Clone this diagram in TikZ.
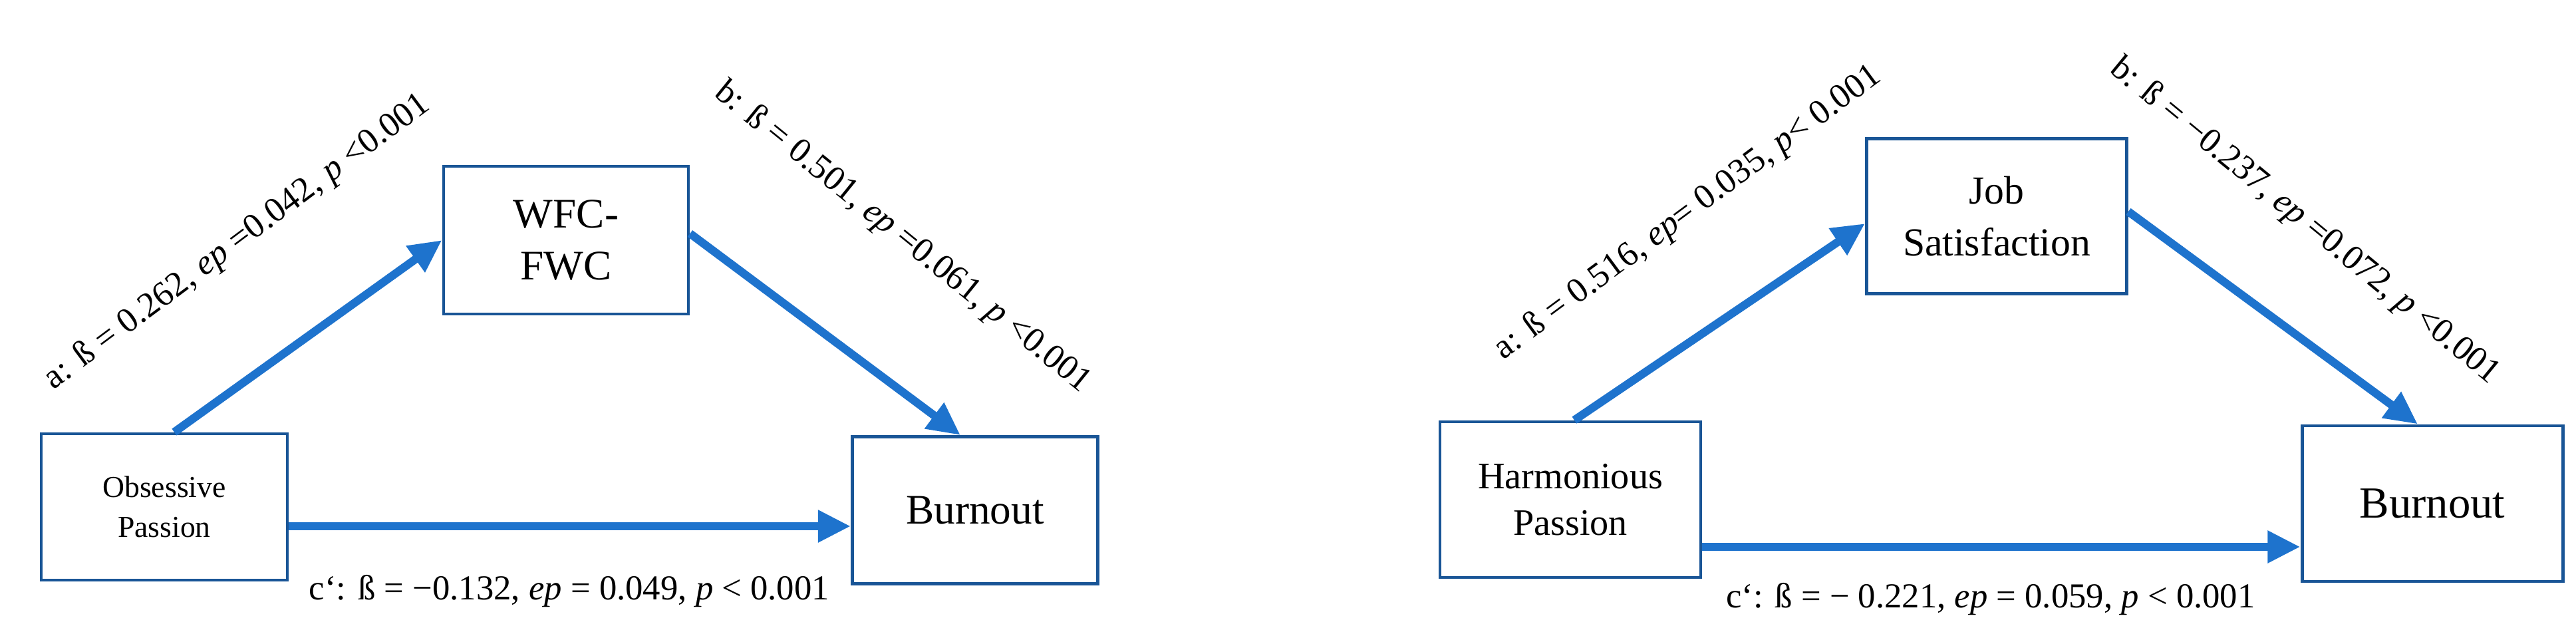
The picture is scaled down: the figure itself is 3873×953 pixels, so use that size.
\documentclass[tikz,border=0pt]{standalone}
\usepackage{fontspec}
\setmainfont{Liberation Serif}
\usetikzlibrary{arrows.meta}
\definecolor{arr}{RGB}{30,115,205}
\definecolor{bord}{RGB}{25,85,150}
\begin{document}
\begin{tikzpicture}[x=0.02cm,y=-0.02cm,
  box/.style={draw=bord,line width=2.8pt,fill=white,inner sep=0pt,align=center},
  conn/.style={draw=arr,line width=7pt,-{Triangle[length=28pt,width=26pt]}},
  lab/.style={font=\fontsize{30}{34}\selectfont,inner sep=0pt}]
\fill[white] (0,0) rectangle (3873,953);
\useasboundingbox (0,0) rectangle (3873,953);
% left
\node[box,minimum width=370*0.02cm,minimum height=220*0.02cm] (op) at (247,762) {};
\node[box,minimum width=368*0.02cm,minimum height=222*0.02cm] (wfc) at (851,361) {};
\node[box,minimum width=369*0.02cm,minimum height=221*0.02cm] (bl) at (1466,767) {};
\node[font=\fontsize{26}{34}\selectfont,align=center] (opt) at (op) {Obsessive\\Passion};
\node[font=\fontsize{36}{44}\selectfont,align=center] (wfct) at (wfc) {WFC-\\FWC};
\node[font=\fontsize{36}{44}\selectfont] (blt) at (bl) {Burnout};
\draw[conn] ([xshift=15*0.02cm]op.north) -- (wfc.west);
\draw[conn] ([yshift=10*0.02cm]wfc.east) -- ([xshift=-22*0.02cm]bl.north);
\draw[conn] ([yshift=-29*0.02cm]op.east) -- ([yshift=-24*0.02cm]bl.west);
\node[lab,rotate=36.7] (la) at (357,364) {a: ß = 0.262, \textit{ep} =0.042, \textit{p} <0.001};
\node[lab,rotate=-39] (lb) at (1357,357) {b: ß = 0.501, \textit{ep} =0.061, \textit{p} <0.001};
\node[lab] (lc) at (856,889) {c`: ß = −0.132, \textit{ep} = 0.049, \textit{p} < 0.001};
% right
\node[box,minimum width=392*0.02cm,minimum height=234*0.02cm] (hp) at (2361,751) {};
\node[box,minimum width=391*0.02cm,minimum height=233*0.02cm] (js) at (3002,325) {};
\node[box,minimum width=392*0.02cm,minimum height=234*0.02cm] (br) at (3657,757) {};
\node[font=\fontsize{32}{40}\selectfont,align=center] (hpt) at (hp) {Harmonious\\Passion};
\node[font=\fontsize{34}{44}\selectfont,align=center] (jst) at (js) {Job\\Satisfaction};
\node[font=\fontsize{38}{44}\selectfont] (brt) at (br) {Burnout};
\draw[conn] ([xshift=6*0.02cm]hp.north) -- ([yshift=-11*0.02cm]js.west);
\draw[conn] ([yshift=7*0.02cm]js.east) -- ([xshift=-22*0.02cm]br.north);
\draw[conn] ([yshift=-71*0.02cm]hp.east) -- ([yshift=-65*0.02cm]br.west);
\node[lab,rotate=36.5] (ra) at (2538,320) {a: ß = 0.516, \textit{ep}= 0.035, \textit{p}< 0.001};
\node[lab,rotate=-39.4] (rb) at (3465,333) {b: ß = −0.237, \textit{ep} =0.072, \textit{p} <0.001};
\node[lab] (rc) at (2993,901) {c`: ß = − 0.221, \textit{ep} = 0.059, \textit{p} < 0.001};
\end{tikzpicture}
\end{document}
